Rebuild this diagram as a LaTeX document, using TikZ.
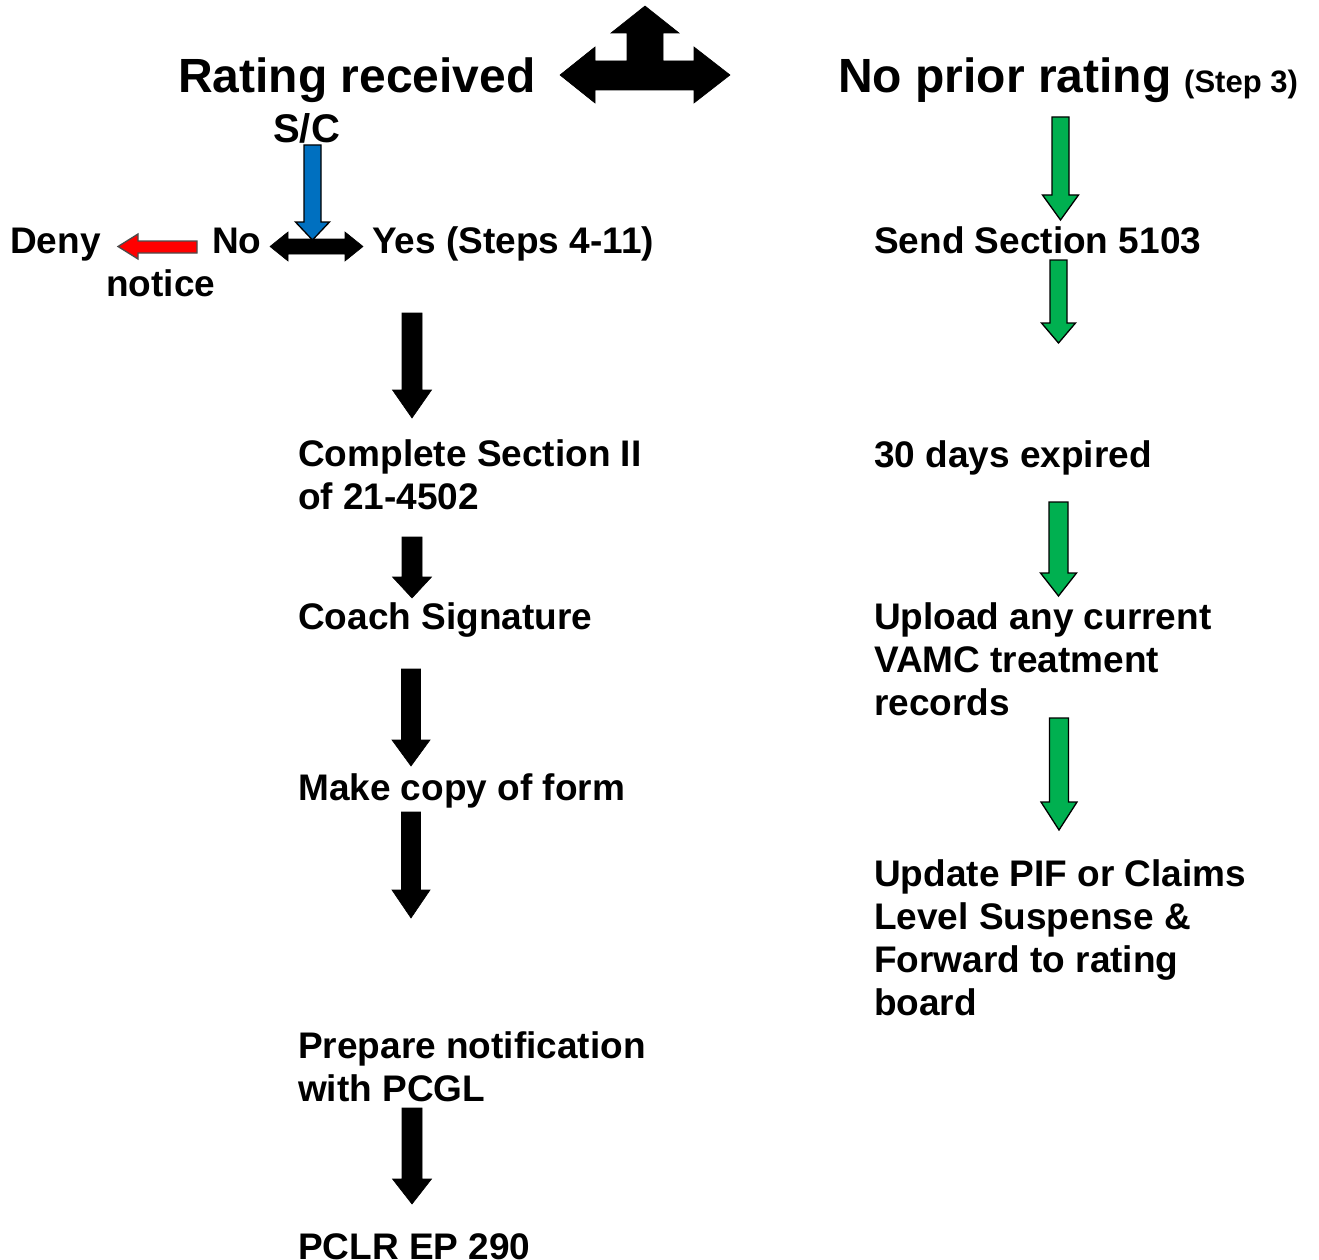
\documentclass[tikz,border=0pt]{standalone}
\usepackage{fontspec}
\setmainfont{Liberation Sans}
\definecolor{agreen}{RGB}{0,176,80}
\definecolor{ablue}{RGB}{0,112,192}
\definecolor{ared}{RGB}{255,0,0}
% style, cx, shaft half width, top, head half width, head base, tip
\newcommand\dnarrow[7]{%
  \path[#1] (#2-#3,#4) -- (#2+#3,#4) -- (#2+#3,#6) -- (#2+#5,#6) -- (#2,#7)
    -- (#2-#5,#6) -- (#2-#3,#6) -- cycle;}
\begin{document}
\begin{tikzpicture}[x=1pt,y=-1pt,
  lbl/.style={anchor=base west, inner sep=0pt, align=left,
    font=\bfseries\fontsize{37}{43}\selectfont},
  big/.style={lbl, font=\bfseries\fontsize{48}{55}\selectfont},
  blk/.style={fill=black, draw=black, line width=0.6pt, line join=miter},
  grn/.style={fill=agreen, draw=black, line width=1.3pt, line join=miter},
  blu/.style={fill=ablue, draw=black, line width=1.3pt, line join=miter},
  redarrow/.style={fill=ared, draw=black!70, line width=1.3pt, line join=miter}]
\useasboundingbox (0,0) rectangle (1319,1260);

% ---- headings
\node[big] (rr) at (178,93) {Rating received};
\node[big] (npr) at (838,93) {No prior rating};
\node[lbl, font=\bfseries\fontsize{31}{36}\selectfont] (step3) at (1184,93) {(Step 3)};

% three-way arrow
\path[blk] (560,75) -- (595,47) -- (595,61) -- (627,61) -- (627,33) -- (611,33)
  -- (645,6) -- (679,33) -- (663,33) -- (663,61) -- (694,61) -- (694,47)
  -- (730,75) -- (694,103) -- (694,90) -- (595,90) -- (595,103) -- cycle;

% ---- left branch
\node[lbl, font=\bfseries\fontsize{40}{46}\selectfont] (sc) at (273,143) {S/C};
\dnarrow{blu}{312.5}{8.5}{145}{17}{222}{240}
\path[blk] (270,246.5) -- (288,232) -- (288,239) -- (345,239) -- (345,232)
  -- (363,246.5) -- (345,261) -- (345,254) -- (288,254) -- (288,261) -- cycle;
\path[redarrow] (118,246.5) -- (138,234) -- (138,241) -- (197,241) -- (197,253)
  -- (138,253) -- (138,259) -- cycle;

\node[lbl] (deny) at (10,253) {Deny};
\node[lbl] (no) at (212,253) {No};
\node[lbl] (yes) at (372,253) {Yes (Steps 4-11)};
\node[lbl] (notice) at (106,296) {notice};

\dnarrow{blk}{412}{10}{313}{19.5}{390}{418}
% multi-line nodes: base anchor is the baseline of the last line
\node[lbl] (c1) at (298,509) {Complete Section II\\of 21-4502};
\dnarrow{blk}{412}{10}{537}{19.5}{577}{598}
\node[lbl] (coach) at (298,629) {Coach Signature};
\dnarrow{blk}{411}{9.5}{669}{19}{740}{766}
\node[lbl] (copy) at (298,800) {Make copy of form};
\dnarrow{blk}{411}{9.5}{812}{19}{890}{918}
\node[lbl] (prep) at (298,1101) {Prepare notification\\with PCGL};
\dnarrow{blk}{412}{10}{1108}{19.5}{1179}{1204}
\node[lbl] (pclr) at (298,1259) {PCLR EP 290};

% ---- right branch
\dnarrow{grn}{1060.5}{8.5}{117}{18}{195}{220}
\node[lbl] (send) at (874,253) {Send Section 5103};
\dnarrow{grn}{1058.5}{8.5}{260}{17}{323}{343}
\node[lbl] (days) at (874,467) {30 days expired};
\dnarrow{grn}{1058.5}{9.5}{502}{18}{573}{596}
\node[lbl] (upload) at (874,715) {Upload any current\\VAMC treatment\\records};
\dnarrow{grn}{1059}{9.5}{718}{18}{802}{830}
\node[lbl] (update) at (874,1015) {Update PIF or Claims\\Level Suspense \&\\Forward to rating\\board};
\end{tikzpicture}
\end{document}
